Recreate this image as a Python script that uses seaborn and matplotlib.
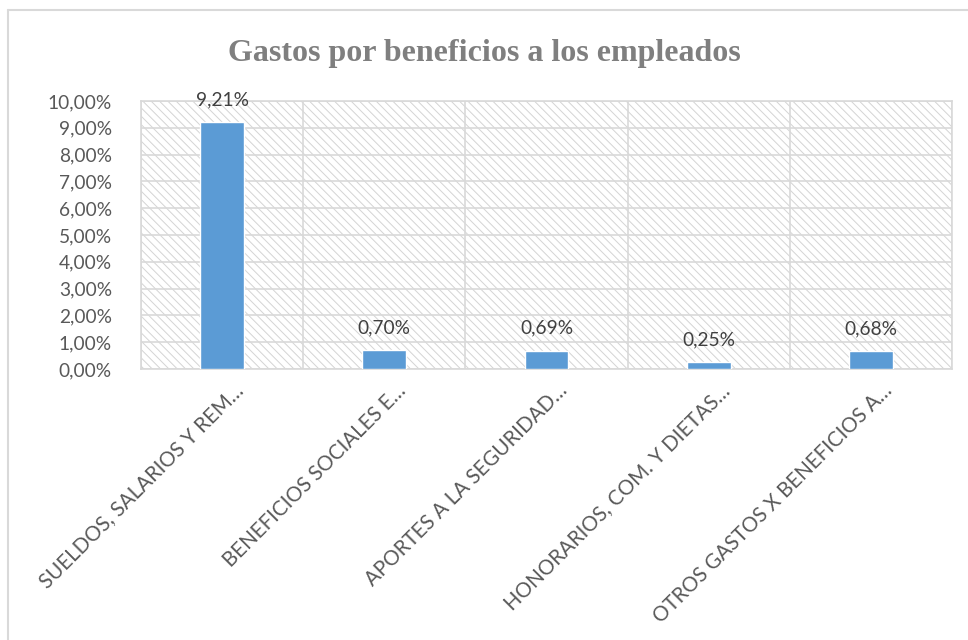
import numpy as np
import pandas as pd
import seaborn as sns
from matplotlib import pyplot as plt, patches as mpatches
from matplotlib.ticker import FuncFormatter, MultipleLocator
from matplotlib.lines import Line2D
from matplotlib.transforms import ScaledTranslation

categories = [
    "SUELDOS, SALARIOS Y REM…",
    "BENEFICIOS SOCIALES E…",
    "APORTES A LA SEGURIDAD…",
    "HONORARIOS, COM. Y DIETAS…",
    "OTROS GASTOS X BENEFICIOS A…",
]
values = [9.21, 0.70, 0.69, 0.25, 0.68]
title = "Gastos por beneficios a los empleados"

sns.set_style("white")
plt.rcParams["font.family"] = ["Lato", "DejaVu Sans"]
plt.rcParams["hatch.color"] = "#d4d4d4"
plt.rcParams["hatch.linewidth"] = 0.7

grid_c = "#d9d9d9"
text_c = "#595959"

df = pd.DataFrame({"category": categories, "value": values})

fig = plt.figure(figsize=(9.68, 6.4), dpi=100)
ax = fig.add_axes([0.1457, 0.4234, 0.8378, 0.4188])

# hatched plot area
ax.add_patch(mpatches.Rectangle((0, 0), 1, 1, transform=ax.transAxes, facecolor="white",
                                hatch="\\\\\\\\", edgecolor="#d4d4d4", lw=0, zorder=0))

sns.barplot(data=df, x="category", y="value", color="#5b9bd5", saturation=1,
            width=0.27, ax=ax, zorder=3)

ax.set_ylim(0, 10)
ax.set_xlim(-0.5, len(categories) - 0.5)
ax.yaxis.set_major_locator(MultipleLocator(1))
ax.yaxis.set_major_formatter(FuncFormatter(lambda v, p: f"{v:.2f}%".replace(".", ",")))
ax.yaxis.grid(True, color=grid_c, lw=1.2, zorder=1)
for xb in np.arange(-0.5, len(categories), 1.0):
    ax.axvline(xb, color=grid_c, lw=1.2, zorder=1)
for s in ax.spines.values():
    s.set_color(grid_c)
    s.set_linewidth(1.2)
ax.set_axisbelow(False)

ax.tick_params(axis="y", length=0, labelsize=13.8, labelcolor=text_c, pad=21)
ax.tick_params(axis="x", length=0, labelsize=14.8, labelcolor=text_c, pad=4)
shift = ScaledTranslation(11 / 100, -6 / 100, fig.dpi_scale_trans)
for lab in ax.get_xticklabels():
    lab.set_rotation(45)
    lab.set_ha("right")
    lab.set_rotation_mode("anchor")
    lab.set_transform(lab.get_transform() + shift)
ax.set_xlabel("")
ax.set_ylabel("")

for i, v in enumerate(values):
    ax.annotate(f"{v:.2f}%".replace(".", ","), (i, v), xytext=(0, 10), textcoords="offset points",
                ha="center", va="bottom", fontsize=13.8, color="#404040", zorder=4)

fig.text(0.5, 1 - 53 / 640, title, ha="center", va="center", fontsize=23, fontweight="bold",
         color="#7f7f7f", family=["Liberation Serif", "DejaVu Serif"])

# chart frame (right and bottom edges run off the picture)
fig.add_artist(Line2D([8 / 968, 1.0], [1 - 10 / 640, 1 - 10 / 640], transform=fig.transFigure,
                      color=grid_c, lw=1.5))
fig.add_artist(Line2D([8 / 968, 8 / 968], [0, 1 - 10 / 640], transform=fig.transFigure,
                      color=grid_c, lw=1.5))

fig.savefig("out.png", dpi=100)
